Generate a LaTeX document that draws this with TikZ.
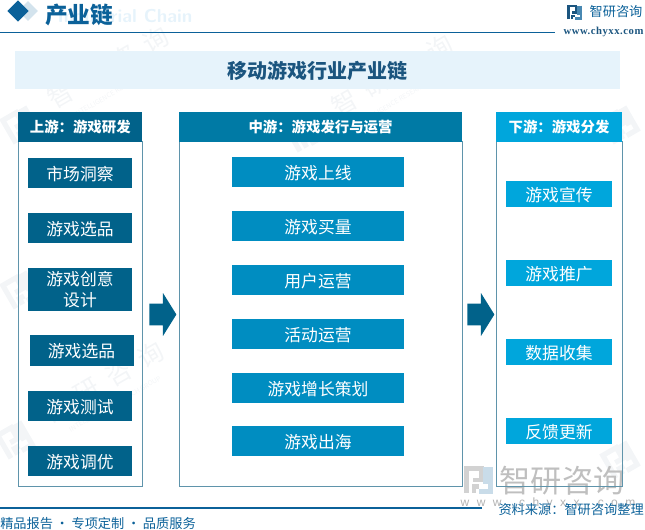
\documentclass[tikz,border=0pt]{standalone}
\usepackage{xcolor}
\usepackage{fontspec}
\setmainfont{Noto Sans CJK SC}
\newfontfamily\siteserif[LetterSpace=5]{Liberation Serif}
\newfontfamily\sitesans[LetterSpace=62]{Liberation Sans}
\usetikzlibrary{shapes.arrows,shapes.geometric}

\definecolor{linemain}{HTML}{0B6199}
\definecolor{bandfill}{HTML}{E6F3FB}
\definecolor{titleink}{HTML}{1B557F}
\definecolor{upfill}{HTML}{01628A}
\definecolor{midhead}{HTML}{007AA5}
\definecolor{midfill}{HTML}{008DC1}
\definecolor{downfill}{HTML}{00A6DC}
\definecolor{frameline}{HTML}{5F94AB}
\definecolor{faintmark}{HTML}{F3F5F7}

% logo: x, y, size, two inks, turn
\newcommand{\logomark}[6]{
	\begin{scope}[shift={(#1,#2)}, rotate=#6, x=#3*0.75pt, y=-#3*0.75pt, line width=#3*0.13pt]
		\draw[#4] (-0.42,0.46) -- (-0.42,-0.42) -- (0.1,-0.42) -- (0.1,0) -- (-0.18,0);
		\draw[#4] (-0.16,0.46) -- (-0.16,0.24) -- (0.02,0.24);
		\draw[#5] (0.42,-0.46) -- (0.42,0.42) -- (0.02,0.42);
		\draw[#5] (0.26,-0.46) -- (0.26,0.16);
	\end{scope}
}

\tikzset{
	headbox/.style={inner sep=0pt, text=white, font=\fontsize{10.8pt}{13pt}\selectfont\bfseries, minimum height=22.5pt},
	framebox/.style={draw=frameline, line width=0.75pt, inner sep=0pt, minimum height=258pt},
	itembox/.style={inner sep=0pt, text=white, font=\fontsize{12.6pt}{16pt}\selectfont, align=center},
	lowtext/.style={text height=12.6pt, text depth=1.5pt},
	upitem/.style={itembox, fill=upfill, minimum width=78pt, minimum height=22.5pt},
	miditem/.style={itembox, lowtext, fill=midfill, minimum width=129pt, minimum height=22.5pt},
	downitem/.style={itembox, lowtext, fill=downfill, minimum width=79.5pt, minimum height=19.5pt},
	blockarrow/.style={single arrow, fill=upfill, inner xsep=0pt, inner ysep=7.9pt, minimum height=20.25pt, minimum width=32pt, single arrow head extend=8pt, single arrow tip angle=116},
	markword/.style={text=faintmark, font=\fontsize{19pt}{20pt}\selectfont, rotate=30},
	marksmall/.style={text=faintmark, font=\fontsize{5pt}{6pt}\selectfont, rotate=30},
	footword/.style={text=linemain, font=\fontsize{9.9pt}{12pt}\selectfont, inner sep=0pt}
}

\begin{document}
\begin{tikzpicture}[x=0.75pt, y=-0.75pt]
	\useasboundingbox (0,0) rectangle (645,530);

	\foreach \mx/\my in {20/125, 304/133, 15/440} {
		\node[markword] at (\mx+88,\my-58) {智\ \ 研\ \ 咨\ \ 询};
		\node[marksmall] at (\mx+100,\my-36) {INTELLIGENCE RESEARCH GROUP};
		\logomark{\mx}{\my}{30}{faintmark}{faintmark}{30}
	}
	\foreach \mx/\my in {20/290, 620/125, 620/460} {
		\logomark{\mx}{\my}{30}{faintmark}{faintmark}{30}
	}

	\node[text=bandfill, font=\fontsize{14pt}{14pt}\selectfont\bfseries\sffamily, inner sep=0pt] (sub) at (125,16) {Industrial Chain};
	\node[diamond, fill=linemain!18, inner sep=0pt, minimum size=15pt] (dmlight) at (28,11) {};
	\node[diamond, fill=linemain, inner sep=0pt, minimum size=16pt] (dmdark) at (18,11) {};
	\node[text=linemain, font=\fontsize{17pt}{20pt}\selectfont\bfseries, inner sep=0pt] (chain) at (79,15) {产业链};
	\coordinate (topa) at (0,32.5);
	\coordinate (topb) at (555,32.5);
	\draw[linemain, line width=0.9pt] (topa) -- (topb);

	\logomark{574.5}{12.5}{15}{titleink}{linemain!75}{0}
	\node[text=linemain, font=\fontsize{9.9pt}{12pt}\selectfont, inner sep=0pt] (brand) at (616,12) {智研咨询};
	\node[text=titleink, font=\fontsize{8pt}{9pt}\selectfont\bfseries\siteserif, inner sep=0pt] (web) at (603.5,32) {www.chyxx.com};

	\node[fill=bandfill, minimum width=453.75pt, minimum height=28.5pt, inner sep=0pt, text=titleink, font=\fontsize{15pt}{18pt}\selectfont\bfseries] (band) at (317.5,70.5) {移动游戏行业产业链};

	\logomark{478.5}{480}{28}{gray!35}{linemain!22}{0}
	\node[text=gray!50, font=\fontsize{23.4pt}{24pt}\selectfont, inner sep=0pt] (wmark) at (562,481) {智研咨询};
	\node[text=gray!60, font=\fontsize{9pt}{10pt}\sitesans, inner sep=0pt] (wsite) at (548,503) {www.chyxx.com};

	\node[framebox, minimum width=93pt] (upframe) at (80.25,314) {};
	\node[framebox, minimum width=212.25pt] (midframe) at (320.5,314) {};
	\node[framebox, minimum width=94.5pt] (downframe) at (559,314) {};

	\node[headbox, fill=upfill, minimum width=93pt] (uphead) at (80.25,127) {上游：游戏研发};
	\node[headbox, fill=midhead, minimum width=212.25pt] (midhead) at (320.5,127) {中游：游戏发行与运营};
	\node[headbox, fill=downfill, minimum width=94.5pt] (downhead) at (559,127) {下游：游戏分发};

	\node[upitem, lowtext] (ua) at (80,173) {市场洞察};
	\node[upitem, lowtext] (ub) at (80,228.5) {游戏选品};
	\node[upitem, minimum height=32.25pt] (uc) at (80,289.5) {\raisebox{-1pt}{游戏创意}\\\raisebox{-1pt}{设计}};
	\node[upitem, lowtext, minimum height=23.25pt] (ud) at (81.5,350.5) {游戏选品};
	\node[upitem, lowtext] (ue) at (80,406) {游戏测试};
	\node[upitem, lowtext] (uf) at (80,461) {游戏调优};

	\node[miditem] (ma) at (318,172.5) {游戏上线};
	\node[miditem] (mb) at (318,226.5) {游戏买量};
	\node[miditem] (mc) at (318,280) {用户运营};
	\node[miditem] (md) at (318,334) {活动运营};
	\node[miditem] (me) at (318,388) {游戏增长策划};
	\node[miditem] (mf) at (318,441) {游戏出海};

	\node[downitem] (da) at (559,194) {游戏宣传};
	\node[downitem] (db) at (559,273) {游戏推广};
	\node[downitem] (dc) at (559,352) {数据收集};
	\node[downitem] (dd) at (559,431) {反馈更新};

	\node[blockarrow] (arra) at (159.5,314.5) {};
	\node[blockarrow] (arrb) at (477.5,314.5) {};

	\coordinate (bota) at (0,508);
	\coordinate (botb) at (482,508);
	\draw[linemain, line width=0.9pt] (bota) -- (botb);
	\node[footword, anchor=west] (slogan) at (0,523) {精品报告\hspace{2pt}·\hspace{2pt}专项定制\hspace{2pt}·\hspace{2pt}品质服务};
	\node[footword, anchor=east] (source) at (644,510) {资料来源：智研咨询整理};
\end{tikzpicture}
\end{document}
